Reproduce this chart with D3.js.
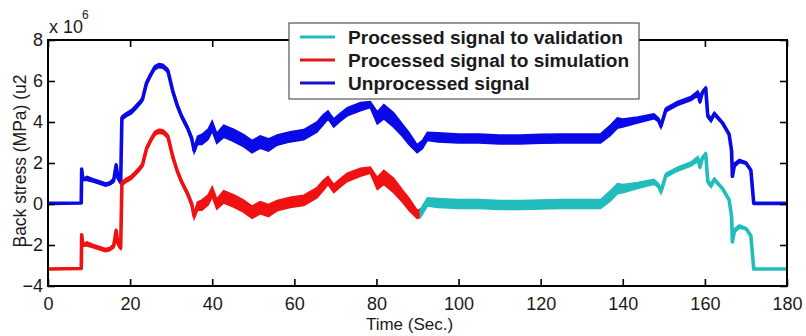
<!DOCTYPE html>
<html>
<head>
<meta charset="utf-8">
<script src="https://cdn.jsdelivr.net/npm/d3@7"></script>
<style>
  body { margin: 0; background: #fff; }
  svg { display: block; font-family: "Liberation Sans", Arial, sans-serif; }
  .tick text { font-size: 18px; fill: #1a1a1a; }
  .tick line { stroke: #000; stroke-width: 1.6; }
</style>
</head>
<body>
<svg width="806" height="336"></svg>
<script>
// values, in units of 10^6
// [time, value, half width of the noise band]
const unprocessed = [
  [0, 0.03, 0], [8.1, 0.05, 0], [8.2, 1.7, 0], [8.5, 1.2, 0.05], [9.5, 1.25, 0.1],
  [11, 1.15, 0.08], [12.5, 1.05, 0.08], [14, 0.95, 0.08], [15, 1.0, 0.08], [16, 1.15, 0.1],
  [16.6, 1.9, 0.1], [17, 1.3, 0.1], [17.7, 1.05, 0.05], [18.0, 4.2, 0.1], [19, 4.35, 0.1],
  [20.3, 4.5, 0.1], [21.3, 4.7, 0.1], [22.2, 4.9, 0.1], [23, 5.1, 0.1], [24, 5.9, 0.1],
  [25, 6.3, 0.1], [26, 6.65, 0.1], [27, 6.75, 0.1], [28, 6.72, 0.1], [29.2, 6.5, 0.1],
  [30.4, 5.5, 0.1], [31.5, 4.8, 0.1], [32.5, 4.3, 0.1], [34, 3.7, 0.1], [35, 3.2, 0.12],
  [35.6, 2.6, 0.12], [36.4, 3.1, 0.2], [37.5, 3.15, 0.25], [39, 3.4, 0.25], [40, 3.8, 0.25],
  [41.1, 3.2, 0.25], [42.8, 3.55, 0.3], [44, 3.45, 0.3], [45.2, 3.35, 0.3], [47.6, 3.1, 0.3],
  [49.7, 2.8, 0.3], [51.7, 3.02, 0.3], [53.7, 2.88, 0.3], [55.8, 3.12, 0.25], [59, 3.28, 0.25],
  [62.3, 3.38, 0.25], [65.5, 3.75, 0.25], [67, 4.1, 0.25], [68.2, 4.35, 0.2], [69.6, 3.95, 0.2],
  [71, 4.2, 0.2], [72.9, 4.5, 0.2], [76.1, 4.75, 0.2], [78.5, 4.85, 0.15], [80.2, 4.2, 0.3],
  [81.8, 4.5, 0.35], [84.2, 4.1, 0.35], [86.3, 3.6, 0.3], [87.9, 3.2, 0.3], [89.9, 2.7, 0.2],
  [91.2, 2.9, 0.2], [92.4, 3.3, 0.2], [95, 3.25, 0.22], [100, 3.2, 0.22], [105, 3.2, 0.22],
  [110, 3.15, 0.22], [115, 3.15, 0.22], [120, 3.18, 0.22], [125, 3.2, 0.22], [130, 3.2, 0.22],
  [134.6, 3.2, 0.22], [137, 3.6, 0.25], [138.7, 3.95, 0.25], [140, 3.95, 0.2], [143.6, 4.1, 0.15],
  [147.6, 4.28, 0.12], [148.7, 4.1, 0.1], [149.3, 3.8, 0.1], [150.5, 4.6, 0.1], [153.3, 4.9, 0.1],
  [156.6, 5.15, 0.1], [158.3, 5.4, 0.12], [158.8, 5.0, 0.1], [159.3, 5.4, 0.1], [160.2, 5.65, 0.05],
  [160.7, 4.3, 0.1], [161.5, 4.1, 0.1], [162.3, 4.4, 0.08], [164.3, 3.95, 0.05], [165.9, 3.4, 0.05],
  [166.5, 2.6, 0.05], [166.7, 1.35, 0.05], [167.2, 1.9, 0.1], [168.4, 2.1, 0.08], [170, 2.0, 0.05],
  [171.2, 1.65, 0.05], [171.9, 0.03, 0], [180, 0.03, 0]
];

const toSimulation = [
  [0, -3.17, 0], [8.1, -3.15, 0], [8.2, -1.5, 0], [8.5, -2.0, 0.05], [9.5, -1.95, 0.1],
  [11, -2.05, 0.08], [12.5, -2.15, 0.08], [14, -2.25, 0.08], [15, -2.2, 0.08], [16, -2.05, 0.1],
  [16.6, -1.3, 0.1], [17, -1.9, 0.1], [17.7, -2.15, 0.05], [18.0, 1.0, 0.1], [19, 1.15, 0.1],
  [20.3, 1.3, 0.1], [21.3, 1.5, 0.1], [22.2, 1.7, 0.1], [23, 1.9, 0.1], [24, 2.7, 0.1],
  [25, 3.1, 0.1], [26, 3.45, 0.1], [27, 3.55, 0.1], [28, 3.52, 0.1], [29.2, 3.3, 0.1],
  [30.4, 2.3, 0.1], [31.5, 1.6, 0.1], [32.5, 1.1, 0.1], [34, 0.5, 0.1], [35, 0.0, 0.12],
  [35.6, -0.6, 0.12], [36.4, -0.1, 0.2], [37.5, -0.05, 0.25], [39, 0.2, 0.25], [40, 0.6, 0.25],
  [41.1, 0.0, 0.25], [42.8, 0.35, 0.3], [44, 0.25, 0.3], [45.2, 0.15, 0.3], [47.6, -0.1, 0.3],
  [49.7, -0.4, 0.3], [51.7, -0.18, 0.3], [53.7, -0.32, 0.3], [55.8, -0.08, 0.25], [59, 0.08, 0.25],
  [62.3, 0.18, 0.25], [65.5, 0.55, 0.25], [67, 0.9, 0.25], [68.2, 1.15, 0.2], [69.6, 0.75, 0.2],
  [71, 1.0, 0.2], [72.9, 1.3, 0.2], [76.1, 1.55, 0.2], [78.5, 1.65, 0.15], [80.2, 1.0, 0.3],
  [81.8, 1.3, 0.35], [84.2, 0.9, 0.35], [86.3, 0.4, 0.3], [87.9, 0.0, 0.3], [89.9, -0.5, 0.2],
  [90.7, -0.45, 0.2]
];

const toValidation = [
  [90.7, -0.45, 0.2], [91.2, -0.3, 0.2], [92.4, 0.1, 0.2], [95, 0.05, 0.22], [100, 0.0, 0.22],
  [105, 0.0, 0.22], [110, -0.05, 0.22], [115, -0.05, 0.22], [120, -0.02, 0.22], [125, 0.0, 0.22],
  [130, 0.0, 0.22], [134.6, 0.0, 0.22], [137, 0.4, 0.25], [138.7, 0.75, 0.25], [140, 0.75, 0.2],
  [143.6, 0.9, 0.15], [147.6, 1.08, 0.12], [148.7, 0.9, 0.1], [149.3, 0.6, 0.1], [150.5, 1.4, 0.1],
  [153.3, 1.7, 0.1], [156.6, 1.95, 0.1], [158.3, 2.2, 0.12], [158.8, 1.8, 0.1], [159.3, 2.2, 0.1],
  [160.2, 2.45, 0.05], [160.7, 1.1, 0.1], [161.5, 0.9, 0.1], [162.3, 1.2, 0.08], [164.3, 0.75, 0.05],
  [165.9, 0.2, 0.05], [166.5, -0.6, 0.05], [166.7, -1.85, 0.05], [167.2, -1.3, 0.1], [168.4, -1.1, 0.08],
  [170, -1.2, 0.05], [171.2, -1.55, 0.05], [171.9, -3.17, 0], [180, -3.17, 0]
];

const legendLabels = ['Processed signal to validation', 'Processed signal to simulation', 'Unprocessed signal'];
const xTicks = [0, 20, 40, 60, 80, 100, 120, 140, 160, 180];
const yTicks = [-4, -2, 0, 2, 4, 6, 8];

const svg = d3.select('svg');
const width = +svg.attr('width');
const height = +svg.attr('height');

const margin = {top: 40, right: 19, bottom: 50, left: 48};
const innerWidth = width - margin.left - margin.right;
const innerHeight = height - margin.top - margin.bottom;

const g = svg.append('g').attr('transform', `translate(${margin.left}, ${margin.top})`);

const xScale = d3.scaleLinear().domain([0, 180]).range([0, innerWidth]);
const yScale = d3.scaleLinear().domain([-4, 8]).range([innerHeight, 0]);

const lineGenerator = d3.line()
  .x(d => xScale(d[0]))
  .y(d => yScale(d[1]));

const bandGenerator = d3.area()
  .x(d => xScale(d[0]))
  .y0(d => yScale(d[1] - d[2]))
  .y1(d => yScale(d[1] + d[2]));

const series = [
  {data: unprocessed, color: '#0a0ae6'},
  {data: toSimulation, color: '#f01212'},
  {data: toValidation, color: '#22bcbc'}
];

series.forEach(s => {
  g.append('path')
    .attr('d', bandGenerator(s.data))
    .attr('fill', s.color)
    .attr('stroke', s.color)
    .attr('stroke-width', 1.5);
  g.append('path')
    .attr('d', lineGenerator(s.data))
    .attr('fill', 'none')
    .attr('stroke', s.color)
    .attr('stroke-width', 3.6)
    .attr('stroke-linejoin', 'round');
});

// axes, matlab style: ticks pointing in on all four sides
const xAxisG = g.append('g')
  .attr('transform', `translate(0, ${innerHeight})`)
  .call(d3.axisBottom(xScale).tickValues(xTicks).tickSize(-7).tickPadding(11));
const yAxisG = g.append('g')
  .call(d3.axisLeft(yScale).tickValues(yTicks).tickSize(-7).tickPadding(5));
const topG = g.append('g')
  .call(d3.axisTop(xScale).tickValues(xTicks).tickSize(-7));
const rightG = g.append('g')
  .attr('transform', `translate(${innerWidth}, 0)`)
  .call(d3.axisRight(yScale).tickValues(yTicks).tickSize(-7));
topG.selectAll('text').remove();
rightG.selectAll('text').remove();

g.selectAll('.domain').remove();
g.selectAll('.tick text').attr('font-family', null).attr('font-size', null);

g.append('rect')
  .attr('width', innerWidth)
  .attr('height', innerHeight)
  .attr('fill', 'none')
  .attr('stroke', '#000')
  .attr('stroke-width', 2);

// exponent
const expText = svg.append('text')
  .attr('x', 49)
  .attr('y', 33)
  .attr('font-size', 18)
  .attr('fill', '#1a1a1a');
expText.append('tspan').text('x 10');
expText.append('tspan').attr('font-size', 12).attr('dy', -14).attr('dx', -1).text('6');

// axis labels
svg.append('text')
  .attr('x', margin.left + xScale(90) - 8)
  .attr('y', 330)
  .attr('text-anchor', 'middle')
  .attr('font-size', 17)
  .attr('fill', '#1a1a1a')
  .text('Time (Sec.)');

svg.append('text')
  .attr('transform', 'translate(26, 161) rotate(-90)')
  .attr('text-anchor', 'middle')
  .attr('font-size', 17.5)
  .attr('fill', '#1a1a1a')
  .text('Back stress (MPa) (u2');

// legend
const legendG = svg.append('g').attr('transform', 'translate(289, 23)');
legendG.append('rect')
  .attr('width', 350)
  .attr('height', 76)
  .attr('fill', '#fff')
  .attr('stroke', '#555')
  .attr('stroke-width', 1.2);

const legendColors = ['#22bcbc', '#e01818', '#1212d0'];
legendLabels.forEach((label, i) => {
  const row = legendG.append('g').attr('transform', `translate(0, ${14 + i * 23})`);
  row.append('line')
    .attr('x1', 11).attr('x2', 46)
    .attr('stroke', legendColors[i])
    .attr('stroke-width', 3);
  row.append('text')
    .attr('x', 59)
    .attr('dy', '0.36em')
    .attr('font-size', 19.1)
    .attr('font-weight', 'bold')
    .attr('fill', '#1a1a1a')
    .text(label);
});
</script>
</body>
</html>
